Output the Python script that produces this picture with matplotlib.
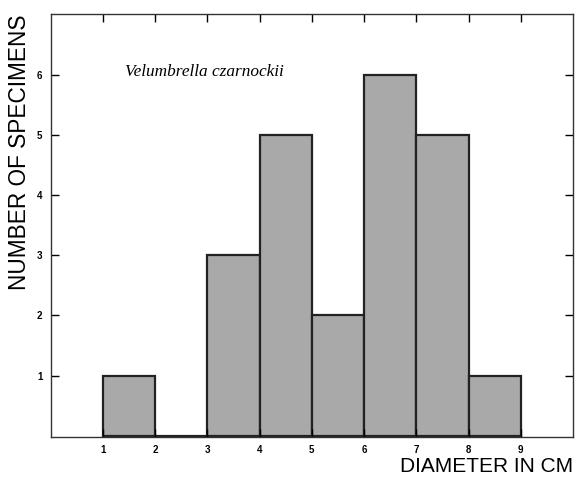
import matplotlib
matplotlib.use("Agg")
import matplotlib.pyplot as plt

bin_edges = [1, 2, 3, 4, 5, 6, 7, 8, 9]
counts = [1, 0, 3, 5, 2, 6, 5, 1]
x_ticks = [1, 2, 3, 4, 5, 6, 7, 8, 9]
y_ticks = [1, 2, 3, 4, 5, 6]
species = "Velumbrella czarnockii"

fig = plt.figure(figsize=(5.77, 4.79), dpi=100)
ax = fig.add_axes([0.088, 0.088, 0.905, 0.883])

lefts = bin_edges[:-1]
widths = [b - a for a, b in zip(bin_edges[:-1], bin_edges[1:])]
ax.bar(lefts, counts, width=widths, align='edge', color='#a9a9a9',
       edgecolor='#222222', linewidth=1.6)

ax.set_xlim(0, 10)
ax.set_ylim(-0.02, 7.02)
ax.set_xticks(x_ticks)
ax.set_yticks(y_ticks)
ax.set_xticklabels([str(t) for t in x_ticks], fontsize=7, fontweight='bold',
                   family='Liberation Sans')
ax.set_yticklabels([str(t) for t in y_ticks], fontsize=7, fontweight='bold',
                   family='Liberation Sans')
ax.tick_params(direction='in', top=True, right=True, length=6, width=1,
               pad=6)
for s in ax.spines.values():
    s.set_linewidth(1.0)
    s.set_color('#333333')

fig.text(20 / 577, 1 - 152 / 479, "NUMBER OF SPECIMENS", rotation=90,
         ha='center', va='center', fontsize=16.3, family='Liberation Sans')
ax.text(1.0, -0.071, "DIAMETER IN CM", transform=ax.transAxes, ha='right',
        va='center', fontsize=15, family='Liberation Sans')
ax.text(0.143, 0.863, species, transform=ax.transAxes, fontsize=12.4,
        style='italic', family='Liberation Serif', ha='left', va='center')

fig.savefig("out.png", dpi=100)
